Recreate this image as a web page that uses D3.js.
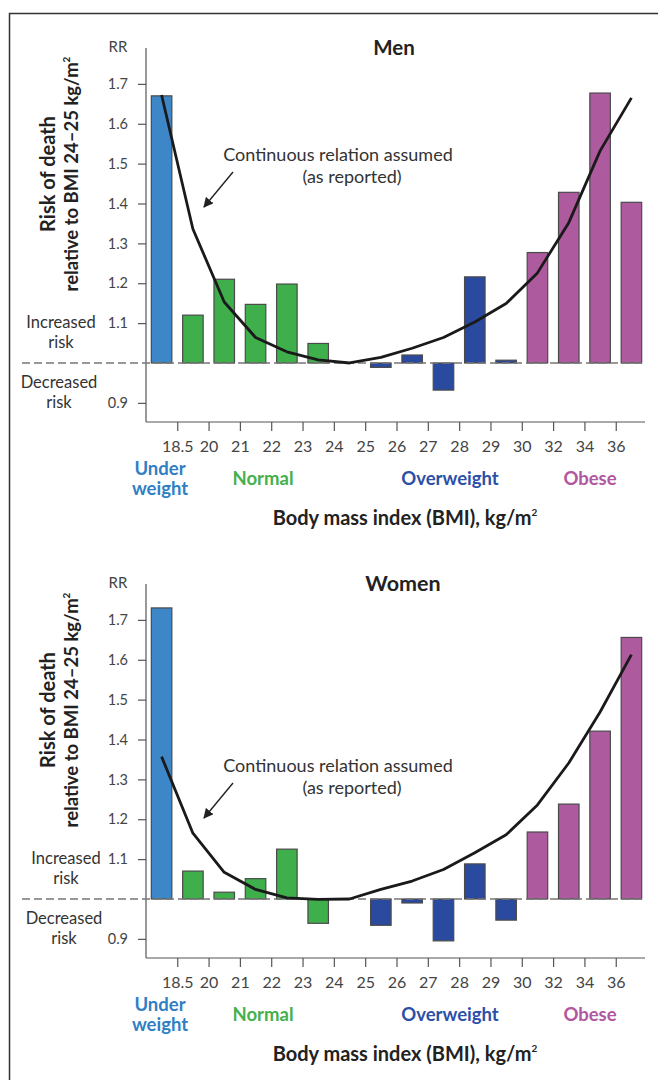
<!DOCTYPE html>
<html>
<head>
<meta charset="utf-8">
<script src="https://cdn.jsdelivr.net/npm/d3@7"></script>
<style>
  body { margin: 0; background: #fff; }
  svg { display: block; font-family: Lato, "Open Sans", sans-serif; }
</style>
</head>
<body>
<svg id="chart" width="658" height="1080"></svg>
<script>
// BMI bands (one bar each); 24-25 is the reference band, RR = 1
var bands = ["<18.5", "18.5-20", "20-21", "21-22", "22-23", "23-24", "24-25", "25-26",
             "26-27", "27-28", "28-29", "29-30", "30-32", "32-34", "34-36", ">=36"];
// tick labels sit on the boundaries between bands
var tickLabels = ["18.5", "20", "21", "22", "23", "24", "25", "26", "27", "28", "29", "30", "32", "34", "36"];
// group of each band
var groups = ["Under", "Normal", "Normal", "Normal", "Normal", "Normal", "Normal", "Over",
              "Over", "Over", "Over", "Over", "Obese", "Obese", "Obese", "Obese"];

// relative risk (null = reference band)
var menRR   = [1.67, 1.12, 1.21, 1.147, 1.198, 1.049, null, 0.989, 1.02, 0.932, 1.216, 1.007, 1.277, 1.428, 1.677, 1.403];
var womenRR = [1.73, 1.07, 1.017, 1.051, 1.125, 0.939, null, 0.934, 0.99, 0.895, 1.088, 0.947, 1.168, 1.238, 1.421, 1.656];

// continuous relation (as reported), one point per band centre
var menCurve   = [1.672, 1.336, 1.153, 1.064, 1.028, 1.008, 1.0, 1.014, 1.037, 1.064, 1.103, 1.149, 1.226, 1.352, 1.532, 1.665];
var womenCurve = [1.357, 1.165, 1.067, 1.024, 1.003, 0.999, 1.0, 1.024, 1.045, 1.074, 1.116, 1.161, 1.236, 1.341, 1.469, 1.613];

var yTicks = [0.9, 1.1, 1.2, 1.3, 1.4, 1.5, 1.6, 1.7];

var colors = { Under: "#3d87c9", Normal: "#3faf4b", Over: "#2a4aa0", Obese: "#ad5a9e" };
var groupLabels = [
  { key: "Under", lines: ["Under", "weight"], color: "#2f7fc4", x: 160 },
  { key: "Normal", lines: ["Normal"], color: "#45b04d", x: 263 },
  { key: "Over", lines: ["Overweight"], color: "#2c4fa8", x: 450 },
  { key: "Obese", lines: ["Obese"], color: "#b2579f", x: 590 }
];

var svg = d3.select("#chart");

// outer frame
svg.append("rect")
  .attr("x", 9.5).attr("y", 13.5)
  .attr("width", 680).attr("height", 1100)
  .attr("fill", "none").attr("stroke", "#333").attr("stroke-width", 1.5);

var x = d3.scaleBand().domain(bands).range([146, 647]).paddingInner(0.345).paddingOuter(0.17);

function drawPanel(top, title, rr, curve, titleX, note) {
  // 1.0 sits at top + 315
  var y = d3.scaleLinear().domain([0.852, 1.79]).range([top + 374, top]);
  var g = svg.append("g");

  // title
  g.append("text").attr("x", titleX).attr("y", top + 7)
    .attr("text-anchor", "middle").attr("font-size", note.titleSize).attr("font-weight", "bold")
    .attr("fill", "#222").text(title);

  // y axis
  var yAxis = d3.axisLeft(y).tickValues(yTicks).tickSize(8).tickPadding(10)
    .tickFormat(d3.format(".1f"));
  var ya = g.append("g").attr("transform", "translate(146,0)").call(yAxis);
  ya.select(".domain").attr("d", "M0," + y.range()[1] + "V" + y.range()[0]);
  ya.selectAll("line, path").attr("stroke", "#555").attr("stroke-width", 1.2);
  ya.selectAll("text").attr("font-size", 14.5).attr("fill", "#444")
    .attr("font-family", "Lato, sans-serif");
  g.append("text").attr("x", 118).attr("y", top + 4).attr("text-anchor", "middle")
    .attr("font-size", 15).attr("fill", "#444").text("RR");

  // x axis: ticks on band boundaries
  var bx = d3.scalePoint().domain(tickLabels)
    .range([x(bands[1]) - x.step() * x.paddingInner() / 2, x(bands[15]) - x.step() * x.paddingInner() / 2]);
  var xAxis = d3.axisBottom(bx).tickSize(9).tickPadding(10);
  var xa = g.append("g").attr("transform", "translate(0," + y.range()[0] + ")").call(xAxis);
  xa.select(".domain").attr("d", "M146,0H645");
  xa.selectAll("line, path").attr("stroke", "#555").attr("stroke-width", 1.2);
  xa.selectAll("text").attr("font-size", 16).attr("fill", "#444")
    .attr("font-family", "Lato, sans-serif");

  // bars
  var data = bands.map(function(b, i) { return { band: b, v: rr[i], grp: groups[i] }; })
    .filter(function(d) { return d.v !== null; });
  g.selectAll("rect.bar").data(data).enter().append("rect")
    .attr("class", "bar")
    .attr("x", function(d) { return x(d.band); })
    .attr("width", x.bandwidth())
    .attr("y", function(d) { return Math.min(y(d.v), y(1)); })
    .attr("height", function(d) { return Math.abs(y(d.v) - y(1)); })
    .attr("fill", function(d) { return colors[d.grp]; })
    .attr("stroke", "#4a4a4a").attr("stroke-width", 1.2);

  // reference dashed line
  g.append("line").attr("x1", 22).attr("x2", 645)
    .attr("y1", y(1)).attr("y2", y(1))
    .attr("stroke", "#777").attr("stroke-width", 1.3).attr("stroke-dasharray", "8,4");

  // continuous relation
  var line = d3.line()
    .x(function(d, i) { return x(bands[i]) + x.bandwidth() / 2; })
    .y(function(d) { return y(d); });
  g.append("path").datum(curve).attr("d", line)
    .attr("fill", "none").attr("stroke", "#1a1a1a").attr("stroke-width", 2.8)
    .attr("stroke-linejoin", "round");

  // annotation and arrow
  var ny = note.y;
  g.append("text").attr("x", 338).attr("y", ny).attr("text-anchor", "middle")
    .attr("font-size", 18).attr("fill", "#333").text("Continuous relation assumed");
  g.append("text").attr("x", 352).attr("y", ny + 22).attr("text-anchor", "middle")
    .attr("font-size", 18).attr("fill", "#333").text("(as reported)");
  g.append("line").attr("x1", 233).attr("y1", ny + 11).attr("x2", 204).attr("y2", ny + 46)
    .attr("stroke", "#222").attr("stroke-width", 1.4).attr("marker-end", "url(#arrow)");

  // increased / decreased risk
  var y1 = y(1);
  [["Increased", "risk", y1 - 35, note.risk], ["Decreased", "risk", y1 + 25, note.risk - 2]].forEach(function(r) {
    var t = g.append("text").attr("text-anchor", "middle").attr("font-size", 16.5)
      .attr("fill", "#333");
    t.append("tspan").attr("x", r[3]).attr("y", r[2]).text(r[0]);
    t.append("tspan").attr("x", r[3]).attr("y", r[2] + 20).text(r[1]);
  });

  // y axis title
  var yt = g.append("text").attr("transform", "translate(0," + (top + 126) + ") rotate(-90)")
    .attr("text-anchor", "middle").attr("font-weight", "bold")
    .attr("fill", "#222");
  yt.append("tspan").attr("x", 0).attr("y", 55).attr("font-size", 20).text("Risk of death");
  var l2 = yt.append("tspan").attr("x", 0).attr("y", 78).attr("font-size", 18.5)
    .text("relative to BMI 24\u201325 kg/m");
  l2.append("tspan").attr("font-size", 10).attr("dy", -8).text("2");

  // group labels
  var base = y.range()[0] + 63;
  groupLabels.forEach(function(gl) {
    var t = g.append("text").attr("text-anchor", "middle").attr("font-size", 18.5)
      .attr("font-weight", "bold").attr("fill", gl.color);
    if (gl.lines.length === 2) {
      t.append("tspan").attr("x", gl.x).attr("y", base - 10).text(gl.lines[0]);
      t.append("tspan").attr("x", gl.x).attr("y", base + 10).text(gl.lines[1]);
    } else {
      t.append("tspan").attr("x", gl.x).attr("y", base).text(gl.lines[0]);
    }
  });

  // x axis title
  var xt = g.append("text").attr("x", 405).attr("y", y.range()[0] + 103)
    .attr("text-anchor", "middle").attr("font-size", 20).attr("font-weight", "bold")
    .attr("fill", "#222").text("Body mass index (BMI), kg/m");
  xt.append("tspan").attr("font-size", 10).attr("dy", -9).text("2");
}

// arrow head
svg.append("defs").append("marker")
  .attr("id", "arrow").attr("viewBox", "0 0 10 10")
  .attr("refX", 9).attr("refY", 5)
  .attr("markerWidth", 10).attr("markerHeight", 10)
  .attr("markerUnits", "userSpaceOnUse")
  .attr("orient", "auto")
  .append("path").attr("d", "M0,0L10,5L0,10z").attr("fill", "#222");

drawPanel(48, "Men", menRR, menCurve, 394, { y: 161, risk: 61, titleSize: 20.5 });
drawPanel(584, "Women", womenRR, womenCurve, 403, { y: 772, risk: 66, titleSize: 21.5 });
</script>
</body>
</html>
